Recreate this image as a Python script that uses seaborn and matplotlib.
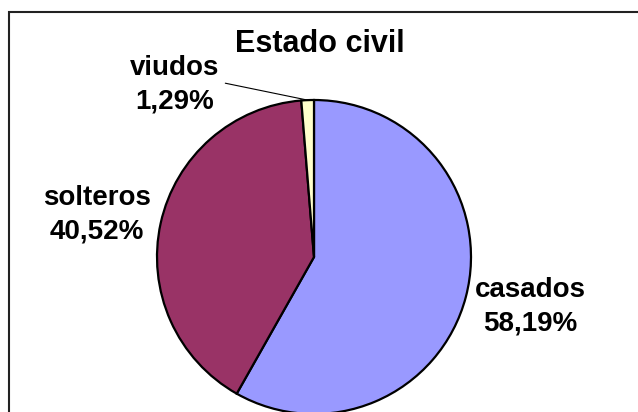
import numpy as np
import matplotlib
matplotlib.use("Agg")
import matplotlib.pyplot as plt
from matplotlib.patches import Rectangle
import seaborn as sns

# Marital status shares (percent)
categories = ["casados", "solteros", "viudos"]
shares = [58.19, 40.52, 1.29]
colors = ["#9999FF", "#993366", "#FFFFCC"]
title = "Estado civil"

sns.set_theme(style="white")
plt.rcParams["font.family"] = ["Liberation Sans", "DejaVu Sans"]

W, H = 638, 412
fig = plt.figure(figsize=(W / 100, H / 100), dpi=100)
fig.patch.set_facecolor("white")

# Pie: circle of radius 157 px centred at (314, 257) px from the top-left
cx, cy, r = 314, 257, 157
ax = fig.add_axes([(cx - r) / W, (H - cy - r) / H, 2 * r / W, 2 * r / H])

wedges, _ = ax.pie(
    shares,
    colors=colors,
    startangle=90,
    counterclock=False,
    radius=1.0,
    wedgeprops=dict(edgecolor="black", linewidth=1.6),
)
ax.set_xlim(-1, 1)
ax.set_ylim(-1, 1)
ax.set_aspect("equal")
ax.axis("off")
for w in wedges:
    w.set_clip_on(False)

def fmt(v):
    return f"{v:.2f}".replace(".", ",") + "%"

# Label centres in pie units (radius = 1)
label_pos = {
    "casados": (1.376, -0.318),
    "solteros": (-1.382, 0.268),
    "viudos": (-0.885, 1.096),
}
for name, v in zip(categories, shares):
    x, y = label_pos[name]
    ax.text(x, y, f"{name}\n{fmt(v)}", ha="center", va="center",
            fontsize=20, fontweight="bold", color="black",
            linespacing=1.38, clip_on=False)

# Leader line from the small slice to its label
w = wedges[2]
mid = np.deg2rad((w.theta1 + w.theta2) / 2)
ax.annotate("", xy=(np.cos(mid), np.sin(mid)), xytext=(-0.565, 1.107),
            arrowprops=dict(arrowstyle="-", color="black", lw=0.8,
                            shrinkA=0, shrinkB=0),
            annotation_clip=False)

fig.text(320 / W, 1 - 44 / H, title, ha="center", va="center",
         fontsize=22, fontweight="bold", color="black")

# Chart-area frame (extends past the right and bottom edges)
fig.patches.append(Rectangle((9 / W, -0.2), 1.2, 1.2 - 12 / H,
                             transform=fig.transFigure, fill=False,
                             edgecolor="#222222", linewidth=1.5))

fig.savefig("out.png", dpi=100, facecolor="white")
